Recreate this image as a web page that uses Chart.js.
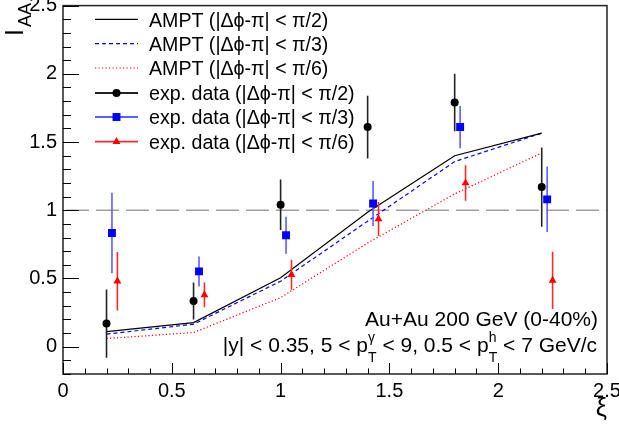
<!DOCTYPE html>
<html>
<head>
<meta charset="utf-8">
<script src="https://cdn.jsdelivr.net/npm/chart.js@4.4.1/dist/chart.umd.min.js"></script>
<style>
  html, body { margin: 0; padding: 0; background: #fff; }
  #wrap { width: 619px; height: 432px; }
</style>
</head>
<body>
<div id="wrap"><canvas id="iaaChart"></canvas></div>
<script>
const FONT = '"Liberation Sans", Arial, Helvetica, sans-serif';

// AMPT curves
const xModel = [0.2, 0.6, 1.0, 1.4, 1.8, 2.2];
const amptPi2 = [0.11, 0.177, 0.506, 0.985, 1.40, 1.565];
const amptPi3 = [0.092, 0.165, 0.48, 0.92, 1.357, 1.565];
const amptPi6 = [0.06, 0.104, 0.36, 0.76, 1.12, 1.42];

// measured points (shifted a little in x per selection)
const xExpPi2 = [0.2, 0.6, 1.0, 1.4, 1.8, 2.2];
const expPi2 = [0.17, 0.335, 1.04, 1.61, 1.79, 1.17];
const errPi2 = [0.25, 0.135, 0.185, 0.23, 0.21, 0.29];

const xExpPi3 = [0.225, 0.625, 1.025, 1.425, 1.825, 2.225];
const expPi3 = [0.834, 0.552, 0.817, 1.05, 1.61, 1.08];
const errPi3 = [0.295, 0.11, 0.136, 0.165, 0.155, 0.24];

const xExpPi6 = [0.25, 0.65, 1.05, 1.45, 1.85, 2.25];
const expPi6 = [0.48, 0.38, 0.527, 0.936, 1.20, 0.486];
const errPi6 = [0.215, 0.09, 0.11, 0.125, 0.13, 0.21];

const refX = [0, 2.5];
const refY = [1, 1];

const xTicks = [0, 0.5, 1, 1.5, 2, 2.5];
const yTicks = [0, 0.5, 1, 1.5, 2, 2.5];

const amptLabels = ["AMPT (|\u0394\u03D5-\u03C0| < \u03C0/2)", "AMPT (|\u0394\u03D5-\u03C0| < \u03C0/3)", "AMPT (|\u0394\u03D5-\u03C0| < \u03C0/6)"];
const expLabels = ["exp. data (|\u0394\u03D5-\u03C0| < \u03C0/2)", "exp. data (|\u0394\u03D5-\u03C0| < \u03C0/3)", "exp. data (|\u0394\u03D5-\u03C0| < \u03C0/6)"];

function toPoints(xs, ys) {
    return xs.map((x, i) => ({ x: x, y: ys[i] }));
}

function errorBars(xs, ys, errs) {
    const pts = [];
    xs.forEach((x, i) => {
        pts.push({ x: x, y: ys[i] - errs[i] });
        pts.push({ x: x, y: ys[i] + errs[i] });
        pts.push({ x: x, y: null });
    });
    return pts;
}

const markerStyle = [
    { color: "#000000", bar: "#222222", style: "circle", radius: 4 },
    { color: "#0000ff", bar: "#5c5cff", style: "rect", radius: 5.6 },
    { color: "#ff0000", bar: "#ff2a2a", style: "triangle", radius: 4.6 }
];
const lineStyle = [
    { color: "#000000", dash: [] },
    { color: "#0000ff", dash: [4, 3] },
    { color: "#ff0000", dash: [1.2, 2.3] }
];

const expX = [xExpPi2, xExpPi3, xExpPi6];
const expY = [expPi2, expPi3, expPi6];
const expErr = [errPi2, errPi3, errPi6];
const amptY = [amptPi2, amptPi3, amptPi6];

const datasets = [];
// markers on top
markerStyle.forEach((m, i) => {
    datasets.push({
        label: expLabels[i],
        data: toPoints(expX[i], expY[i]),
        showLine: false,
        pointStyle: m.style,
        pointRadius: m.radius,
        pointBackgroundColor: m.color,
        pointBorderColor: m.color,
        pointBorderWidth: 0
    });
});
markerStyle.forEach((m, i) => {
    datasets.push({
        label: "err" + i,
        data: errorBars(expX[i], expY[i], expErr[i]),
        borderColor: m.bar,
        borderWidth: 1.6,
        pointRadius: 0,
        spanGaps: false
    });
});
lineStyle.forEach((l, i) => {
    datasets.push({
        label: amptLabels[i],
        data: toPoints(xModel, amptY[i]),
        borderColor: l.color,
        borderDash: l.dash,
        borderWidth: 1.2,
        pointRadius: 0
    });
});
datasets.push({
    label: "ref",
    data: toPoints(refX, refY),
    borderColor: "#a0a0a0",
    borderWidth: 1.5,
    borderDash: [23, 7],
    borderDashOffset: 27,
    pointRadius: 0
});

function drawRich(ctx, pieces, right, base, size, subSize) {
    let w = 0;
    pieces.forEach(p => {
        if (p.sub !== undefined) {
            ctx.font = subSize + "px " + FONT;
            p.w = Math.max(ctx.measureText(p.sub).width, ctx.measureText(p.sup).width);
        } else {
            ctx.font = size + "px " + FONT;
            p.w = ctx.measureText(p.t).width;
        }
        w += p.w;
    });
    let x = right - w;
    ctx.textAlign = "left";
    ctx.textBaseline = "alphabetic";
    pieces.forEach(p => {
        if (p.sub !== undefined) {
            ctx.font = subSize + "px " + FONT;
            ctx.fillText(p.sup, x, base - 10);
            ctx.fillText(p.sub, x, base + 10);
        } else {
            ctx.font = size + "px " + FONT;
            ctx.fillText(p.t, x, base);
        }
        x += p.w;
    });
}

const rootStyle = {
    id: "rootStyle",
    afterDraw(chart) {
        const { ctx, chartArea: a, scales } = chart;
        const xs = scales.x, ys = scales.y;
        ctx.save();

        // frame
        ctx.strokeStyle = "#222";
        ctx.lineWidth = 1.5;
        ctx.strokeRect(a.left, a.top, a.right - a.left, a.bottom - a.top);

        // inward ticks, ROOT style
        ctx.strokeStyle = "#000";
        ctx.lineWidth = 1;
        ctx.beginPath();
        for (let i = -2; i <= 25; i++) {
            const py = Math.round(ys.getPixelForValue(i / 10)) + 0.5;
            const len = i % 5 === 0 ? 16 : 8;
            ctx.moveTo(a.left, py);
            ctx.lineTo(a.left + len, py);
        }
        for (let i = 0; i <= 25; i++) {
            const px = Math.round(xs.getPixelForValue(i / 10)) + 0.5;
            const len = i % 5 === 0 ? 11 : 5.5;
            ctx.moveTo(px, a.bottom);
            ctx.lineTo(px, a.bottom - len);
        }
        ctx.stroke();

        // legend
        ctx.fillStyle = "#000";
        ctx.font = "19.6px " + FONT;
        ctx.textAlign = "left";
        ctx.textBaseline = "alphabetic";
        const rows = [19.3, 43.6, 68, 93, 117, 141.6];
        lineStyle.forEach((l, i) => {
            const ry = rows[i];
            ctx.strokeStyle = l.color;
            ctx.lineWidth = 1.2;
            ctx.setLineDash(l.dash);
            ctx.beginPath();
            ctx.moveTo(95, ry);
            ctx.lineTo(138, ry);
            ctx.stroke();
            ctx.setLineDash([]);
            ctx.fillStyle = "#000";
            ctx.fillText(amptLabels[i], 149, ry + 7.2);
        });
        markerStyle.forEach((m, i) => {
            const ry = rows[i + 3];
            ctx.strokeStyle = m.bar;
            ctx.lineWidth = 1.8;
            ctx.beginPath();
            ctx.moveTo(95, ry);
            ctx.lineTo(138, ry);
            ctx.stroke();
            ctx.fillStyle = m.color;
            Chart.helpers.drawPoint(ctx, { pointStyle: m.style, radius: m.radius, rotation: 0, borderWidth: 0 }, 116.5, ry);
            ctx.fillStyle = "#000";
            ctx.fillText(expLabels[i], 149, ry + 7.2);
        });

        // annotations
        ctx.fillStyle = "#000";
        ctx.font = "21px " + FONT;
        ctx.textAlign = "right";
        ctx.fillText("Au+Au 200 GeV (0-40%)", 598, 326);
        drawRich(ctx, [
            { t: "|y| < 0.35, 5 < p" },
            { sub: "T", sup: "\u03B3" },
            { t: " < 9, 0.5 < p" },
            { sub: "T", sup: "h" },
            { t: " < 7 GeV/c" }
        ], 597, 352, 21, 14);

        // axis titles
        ctx.textAlign = "right";
        ctx.textBaseline = "alphabetic";
        ctx.font = "25px " + FONT;
        ctx.fillText("\u03BE", 607, 416);

        ctx.translate(23, 36);
        ctx.rotate(-Math.PI / 2);
        ctx.textAlign = "left";
        ctx.font = "25px " + FONT;
        ctx.fillText("I", 0, 0);
        ctx.font = "18px " + FONT;
        ctx.fillText("AA", 9, 8);
        ctx.restore();
    }
};

new Chart(document.getElementById("iaaChart"), {
    type: "line",
    data: { datasets: datasets },
    options: {
        responsive: true,
        maintainAspectRatio: false,
        animation: false,
        layout: { padding: { left: 0, right: 12, top: 4, bottom: 0 } },
        plugins: { legend: { display: false }, tooltip: { enabled: false } },
        scales: {
            x: {
                type: "linear",
                min: 0,
                max: 2.5,
                afterBuildTicks: s => { s.ticks = xTicks.map(v => ({ value: v })); },
                afterFit: s => { s.height = 58; s.paddingLeft = 0; s.paddingRight = 0; },
                grid: { display: false, drawTicks: false },
                border: { display: false },
                ticks: {
                    font: { family: FONT, size: 20 },
                    color: "#000",
                    padding: 5,
                    maxRotation: 0,
                    autoSkip: false,
                    callback: v => String(v)
                }
            },
            y: {
                type: "linear",
                min: -0.2,
                max: 2.5,
                afterBuildTicks: s => { s.ticks = yTicks.map(v => ({ value: v })); },
                afterFit: s => { s.width = 63; s.paddingTop = 0; s.paddingBottom = 0; },
                grid: { display: false, drawTicks: false },
                border: { display: false },
                ticks: {
                    font: { family: FONT, size: 20 },
                    color: "#000",
                    padding: 6,
                    autoSkip: false,
                    callback: v => String(v)
                }
            }
        }
    },
    plugins: [rootStyle]
});
</script>
</body>
</html>
